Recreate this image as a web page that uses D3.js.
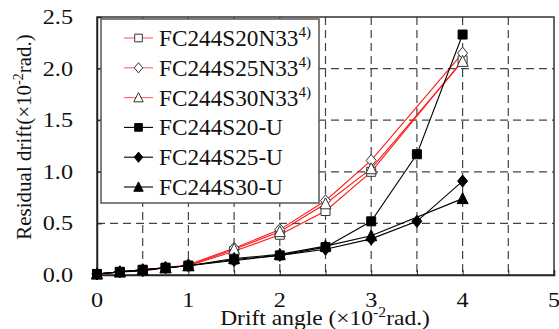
<!DOCTYPE html>
<html><head><meta charset="utf-8">
<script src="https://cdn.jsdelivr.net/npm/d3@7"></script>
<style>body{margin:0;background:#fff}</style>
</head><body><svg id="c" width="559" height="329"></svg>
<script>
const xN = [0, 0.25, 0.5, 0.75, 1, 1.5, 2, 2.5, 3, 4];
const s20N33 = [0.01, 0.03, 0.05, 0.07, 0.09, 0.23, 0.39, 0.62, 1.00, 2.08];
const s25N33 = [0.01, 0.03, 0.05, 0.07, 0.10, 0.26, 0.44, 0.72, 1.11, 2.15];
const s30N33 = [0.01, 0.03, 0.05, 0.07, 0.09, 0.25, 0.42, 0.69, 1.03, 2.07];
const xU2 = [0, 0.25, 0.5, 0.75, 1, 1.5, 2, 2.5, 3, 3.5, 4];
const s20U = [0.01, 0.03, 0.05, 0.07, 0.09, 0.15, 0.19, 0.27, 0.52, 1.17, 2.33];
const s25U = [0.01, 0.03, 0.04, 0.07, 0.09, 0.14, 0.19, 0.25, 0.35, 0.52, 0.91];
const xU3 = [0, 0.25, 0.5, 0.75, 1, 1.5, 2, 2.5, 3, 4];
const s30U = [0.01, 0.03, 0.05, 0.07, 0.09, 0.16, 0.20, 0.28, 0.38, 0.74];
const xTicks = [0, 1, 2, 3, 4, 5];
const yTicks = [0.0, 0.5, 1.0, 1.5, 2.0, 2.5];
const legendNames = ["FC244S20N33", "FC244S25N33", "FC244S30N33", "FC244S20-U", "FC244S25-U", "FC244S30-U"];

const FONT = "'Liberation Serif', 'Times New Roman', Times, serif";

const series = [
  {name: legendNames[0], x: xN, y: s20N33, color: "#ff1a1a", shape: "square", open: true, sup: "4)"},
  {name: legendNames[1], x: xN, y: s25N33, color: "#ff1a1a", shape: "diamond", open: true, sup: "4)"},
  {name: legendNames[2], x: xN, y: s30N33, color: "#ff1a1a", shape: "triangle", open: true, sup: "4)"},
  {name: legendNames[3], x: xU2, y: s20U, color: "#000", shape: "square", open: false},
  {name: legendNames[4], x: xU2, y: s25U, color: "#000", shape: "diamond", open: false},
  {name: legendNames[5], x: xU3, y: s30U, color: "#000", shape: "triangle", open: false}
];

const svg = d3.select("#c");
const L = 97, T = 17, W = 457, H = 258;
const x = d3.scaleLinear().domain([0, 5]).range([L, L + W]);
const y = d3.scaleLinear().domain([0, 2.5]).range([T + H, T]);

// grid
const g = svg.append("g");
const gridVals = d3.range(0.5, 5, 0.5);
g.selectAll(".vg").data(gridVals).join("line")
  .attr("x1", d => x(d)).attr("x2", d => x(d)).attr("y1", T).attr("y2", T + H)
  .attr("stroke", "#444").attr("stroke-width", 1.2).attr("stroke-dasharray", "8,5");
g.selectAll(".hg").data(d3.range(0.5, 2.5, 0.5)).join("line")
  .attr("x1", L).attr("x2", L + W).attr("y1", d => y(d)).attr("y2", d => y(d))
  .attr("stroke", "#444").attr("stroke-width", 1.2).attr("stroke-dasharray", "8,5");

// frame
svg.append("rect").attr("x", L).attr("y", T).attr("width", W).attr("height", H)
  .attr("fill", "none").attr("stroke", "#333").attr("stroke-width", 1.5);

// axes
const xAxis = d3.axisBottom(x).tickValues(d3.range(0, 5.01, 0.5)).tickSize(-5).tickFormat("");
svg.append("g").attr("transform", `translate(0,${T + H})`).call(xAxis)
  .call(a => a.select(".domain").attr("stroke", "#222").attr("stroke-width", 1.5))
  .call(a => a.selectAll(".tick line").attr("stroke", "#222"));
const yAxis = d3.axisLeft(y).tickValues(yTicks).tickSize(-5).tickFormat("");
svg.append("g").attr("transform", `translate(${L},0)`).call(yAxis)
  .call(a => a.select(".domain").attr("stroke", "#222").attr("stroke-width", 1.5))
  .call(a => a.selectAll(".tick line").attr("stroke", "#222"));

// tick labels
svg.selectAll(".xl").data(xTicks).join("text")
  .attr("transform", d => `translate(${x(d)},307) scale(1.1,1)`)
  .attr("font-family", FONT)
  .attr("text-anchor", "middle").attr("font-size", 22).attr("fill", "#111").text(d => d);
svg.selectAll(".yl").data(yTicks).join("text")
  .attr("transform", d => `translate(73,${y(d) + 7}) scale(1.1,1)`)
  .attr("font-family", FONT)
  .attr("text-anchor", "end").attr("font-size", 22).attr("fill", "#111").text(d => d.toFixed(1));

// axis titles
const xt = svg.append("text").attr("transform", "translate(325,325) scale(1.12,1)")
  .attr("font-family", FONT)
  .attr("text-anchor", "middle").attr("font-size", 21).attr("fill", "#111");
xt.append("tspan").text("Drift angle (\u00d710");
xt.append("tspan").attr("font-size", 14).attr("dy", -8).text("-2");
xt.append("tspan").attr("dy", 8).text("rad.)");
const yt = svg.append("text").attr("transform", "translate(31,137) rotate(-90)")
  .attr("font-family", FONT)
  .attr("text-anchor", "middle").attr("font-size", 21).attr("fill", "#111");
yt.append("tspan").text("Residual drift(\u00d710");
yt.append("tspan").attr("font-size", 14).attr("dy", -8).text("-2");
yt.append("tspan").attr("dy", 8).text("rad.)");

function shapePath(shape, k) {
  if (shape === "square") return `M${-4.5*k},${-4.5*k}H${4.5*k}V${4.5*k}H${-4.5*k}Z`;
  if (shape === "diamond") return `M0,${-6*k}L${5*k},0L0,${6*k}L${-5*k},0Z`;
  return `M0,${-6*k}L${5.5*k},${5*k}H${-5.5*k}Z`;
}
function drawMarker(sel, s, k) {
  sel.attr("d", shapePath(s.shape, k))
    .attr("fill", s.open ? "#fff" : "#000")
    .attr("stroke", s.open ? "#333" : "#000")
    .attr("stroke-width", 1);
}

// lines & markers
const line = d3.line();
series.forEach(s => {
  const pts = s.x.map((xv, i) => [x(xv), y(s.y[i])]);
  svg.append("path").attr("d", line(pts)).attr("fill", "none")
    .attr("stroke", s.color).attr("stroke-width", 1.1);
});
series.forEach(s => {
  const pts = s.x.map((xv, i) => [x(xv), y(s.y[i])]);
  svg.append("g").selectAll("path").data(pts).join("path")
    .attr("transform", d => `translate(${d[0]},${d[1]})`)
    .call(sel => drawMarker(sel, s, 1));
});

// legend
const lg = svg.append("g");
lg.append("rect").attr("x", 101).attr("y", 19).attr("width", 218).attr("height", 184)
  .attr("fill", "#fff").attr("stroke", "#555").attr("stroke-width", 1.5);
series.forEach((s, i) => {
  const cy = 38 + i * 29.8;
  lg.append("line").attr("x1", 124).attr("x2", 153).attr("y1", cy).attr("y2", cy)
    .attr("stroke", s.open ? "#ff6060" : "#000").attr("stroke-width", 1.1);
  lg.append("path").attr("transform", `translate(138.5,${cy})`).call(sel => drawMarker(sel, s, 0.85));
  const t = lg.append("text").attr("transform", `translate(159,${cy + 8}) scale(1.01,1)`)
    .attr("font-family", FONT)
    .attr("font-size", 23).attr("fill", "#111");
  t.append("tspan").text(s.name);
  if (s.sup) t.append("tspan").attr("font-size", 15).attr("dy", -9).text(s.sup);
});
</script></body></html>
